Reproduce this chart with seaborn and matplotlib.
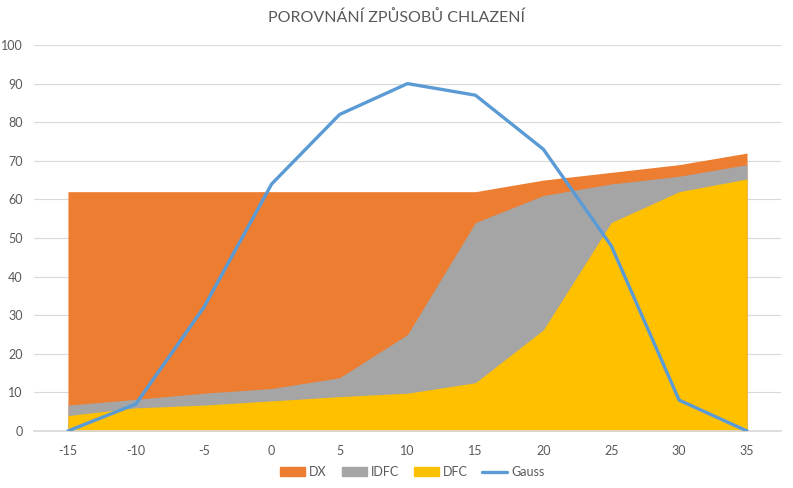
import matplotlib
matplotlib.use("Agg")
import matplotlib.pyplot as plt
import seaborn as sns
import pandas as pd
from matplotlib.patches import Patch
from matplotlib.lines import Line2D

x = [-15, -10, -5, 0, 5, 10, 15, 20, 25, 30, 35]
dx = [62, 62, 62, 62, 62, 62, 62, 65, 67, 69, 72]
idfc = [6.7, 8.2, 9.8, 11, 13.8, 25, 54, 61, 64, 66, 69]
dfc = [4, 6, 6.7, 7.8, 8.9, 9.8, 12.5, 26.2, 54, 62, 65.3]
gauss = [0, 7, 32, 64, 82, 90, 87, 73, 48, 8, 0]
title = "POROVNÁNÍ ZPŮSOBŮ CHLAZENÍ"

sns.set_theme(style="white")
plt.rcParams['font.family'] = ['Lato', 'DejaVu Sans']

colors = {"DX": "#ED7D31", "IDFC": "#A5A5A5", "DFC": "#FFC000", "Gauss": "#5B9BD5"}
df = pd.DataFrame({"x": x, "DX": dx, "IDFC": idfc, "DFC": dfc, "Gauss": gauss})

fig = plt.figure(figsize=(7.93, 4.88), dpi=100)
ax = fig.add_axes([34/793, 1-431/488, (781-34)/793, (431-45)/488])

for name in ["DX", "IDFC", "DFC"]:
    ax.fill_between(df["x"], 0, df[name], color=colors[name], linewidth=0, zorder=2)
sns.lineplot(data=df, x="x", y="Gauss", ax=ax, color=colors["Gauss"], linewidth=2.4, zorder=3)

ax.set_xlim(-17.5, 37.5)
ax.set_ylim(0, 100)
ax.set_xticks(x)
ax.set_xticklabels([str(v) for v in x])
ax.set_yticks(range(0, 101, 10))
ax.yaxis.grid(True, color="#D9D9D9", linewidth=0.8, zorder=0)
ax.set_axisbelow(True)
for s in ["top", "right", "left"]:
    ax.spines[s].set_visible(False)
ax.spines["bottom"].set_color("#D9D9D9")
ax.tick_params(axis="both", length=0, labelsize=9, colors="#595959")
ax.tick_params(axis="x", pad=10)
ax.tick_params(axis="y", pad=8)
ax.set_xlabel("")
ax.set_ylabel("")

fig.text(0.5, 1-18/488, title, ha="center", va="center", fontsize=11.5, color="#595959")

handles = [Patch(color=colors["DX"]), Patch(color=colors["IDFC"]), Patch(color=colors["DFC"]),
           Line2D([0], [0], color=colors["Gauss"], linewidth=2.4)]
fig.legend(handles, ["DX", "IDFC", "DFC", "Gauss"], loc="center", bbox_to_anchor=(0.52, 1-472/488),
           ncol=4, frameon=False, fontsize=9, labelcolor="#595959", handlelength=2.0,
           handleheight=0.7, columnspacing=1.2, handletextpad=0.3)

fig.savefig("out.png", dpi=100)
